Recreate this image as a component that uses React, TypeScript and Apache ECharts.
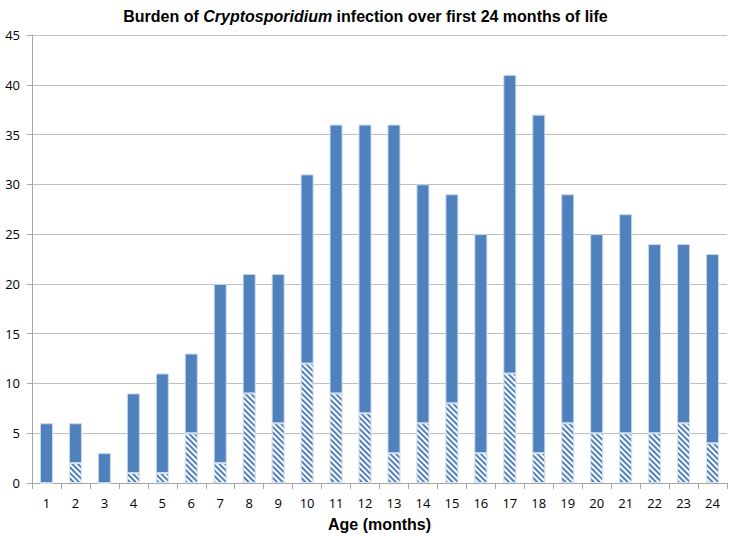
import React, { useEffect, useRef } from "react";
import * as echarts from "echarts";

const ages = ["1","2","3","4","5","6","7","8","9","10","11","12","13","14","15","16","17","18","19","20","21","22","23","24"];
const hatchedValues = [0,2,0,1,1,5,2,9,6,12,9,7,3,6,8,3,11,3,6,5,5,5,6,4];
const totalValues = [6,6,3,9,11,13,20,21,21,31,36,36,36,30,29,25,41,37,29,25,27,24,24,23];
const solidValues = totalValues.map((t, i) => t - hatchedValues[i]);

const BLUE = "#4f81bd";

export default function App() {
  const ref = useRef<HTMLDivElement>(null);
  useEffect(() => {
    if (!ref.current) return;
    const chart = echarts.init(ref.current, undefined, { renderer: "svg" });
    chart.setOption({
      animation: false,
      title: {
        text: "{a|Burden of }{b|Cryptosporidium}{a| infection over first 24 months of life}",
        left: "center",
        top: 3,
        textStyle: {
          rich: {
            a: { fontFamily: "Liberation Sans", fontWeight: "bold", fontSize: 16, color: "#000" },
            b: { fontFamily: "Liberation Sans", fontWeight: "bold", fontStyle: "italic", fontSize: 16, color: "#000" },
          },
        },
      },
      grid: { left: 32, right: 4, top: 35, bottom: 49, containLabel: false },
      xAxis: {
        type: "category",
        data: ages,
        name: "Age (months)",
        nameLocation: "middle",
        nameGap: 33,
        nameTextStyle: { fontFamily: "Liberation Sans", fontWeight: "bold", fontSize: 16, color: "#000" },
        axisLine: { lineStyle: { color: "#a6a6a6", width: 1 } },
        axisTick: { show: true, length: 6, lineStyle: { color: "#a6a6a6" } },
        axisLabel: { fontFamily: "Open Sans", fontSize: 13, color: "#000", margin: 13 },
      },
      yAxis: {
        type: "value",
        min: 0,
        max: 45,
        interval: 5,
        axisLine: { show: true, lineStyle: { color: "#a6a6a6", width: 1 } },
        axisTick: { show: true, length: 5, lineStyle: { color: "#a6a6a6" } },
        axisLabel: { fontFamily: "Open Sans", fontSize: 13, color: "#000", margin: 12 },
        splitLine: { lineStyle: { color: "#bfbfbf", width: 1 } },
      },
      series: [
        {
          type: "bar",
          stack: "s",
          data: hatchedValues,
          barWidth: 13,
          itemStyle: {
            color: "#ffffff",
            borderColor: "#dbe5f1",
            borderWidth: 1,
            decal: {
              symbol: "rect",
              symbolSize: 1,
              color: BLUE,
              backgroundColor: "#ffffff",
              dashArrayX: [1, 0],
              dashArrayY: [2, 2],
              rotation: Math.PI / 4,
            },
          },
        },
        {
          type: "bar",
          stack: "s",
          data: solidValues,
          barWidth: 13,
          itemStyle: { color: BLUE, borderColor: "#c9d7ea", borderWidth: 1 },
        },
      ],
    });
    return () => chart.dispose();
  }, []);
  return <div ref={ref} style={{ width: 731, height: 537, position: "absolute", left: 0, top: 0 }} />;
}
